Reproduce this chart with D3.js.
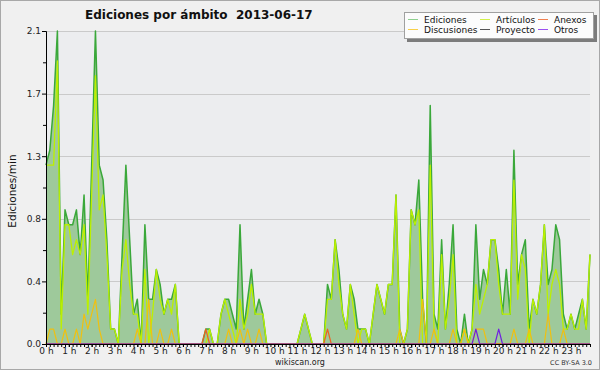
<!DOCTYPE html>
<html>
<head>
<meta charset="utf-8">
<script src="https://cdn.jsdelivr.net/npm/d3@7"></script>
<style>
  html, body { margin: 0; padding: 0; background: #f0f0f0; }
  svg { display: block; font-family: "DejaVu Sans", sans-serif; }
</style>
</head>
<body>
<div id="chart"></div>
<script>
// edits per minute, one value per 10-minute bucket (6 per hour, 0 h .. 23 h)
const ediciones = [
  1.2, 1.3, 1.6, 2.1, 0.2, 0.9,   0.8, 0.8, 0.9, 0.6, 1.0, 0.3,
  1.2, 2.1, 1.2, 1.1, 0.7, 0.1,   0.1, 0.0, 0.6, 1.2, 0.7, 0.2,
  0.3, 0.0, 0.8, 0.3, 0.3, 0.5,   0.4, 0.2, 0.3, 0.3, 0.4, 0.0,
  0.0, 0.0, 0.0, 0.0, 0.0, 0.0,   0.1, 0.1, 0.0, 0.0, 0.2, 0.3,
  0.3, 0.2, 0.1, 0.8, 0.1, 0.3,   0.5, 0.2, 0.3, 0.2, 0.0, 0.0,
  0.0, 0.0, 0.0, 0.0, 0.0, 0.0,   0.0, 0.1, 0.2, 0.1, 0.0, 0.0,
  0.0, 0.0, 0.4, 0.3, 0.7, 0.5,   0.2, 0.1, 0.4, 0.3, 0.1, 0.1,
  0.1, 0.0, 0.2, 0.4, 0.3, 0.2,   0.4, 0.4, 1.0, 0.1, 0.0, 0.1,
  0.9, 0.8, 1.1, 0.3, 0.0, 1.6,   0.2, 0.1, 0.7, 0.1, 0.4, 0.8,
  0.1, 0.0, 0.2, 0.0, 0.1, 0.8,   0.3, 0.5, 0.4, 0.7, 0.7, 0.5,
  0.2, 0.5, 0.2, 1.3, 0.4, 0.6,   0.7, 0.1, 0.3, 0.2, 0.4, 0.8,
  0.4, 0.5, 0.8, 0.7, 0.2, 0.1,   0.2, 0.1, 0.2, 0.3, 0.1, 0.6
];
const articulos = [
  1.2, 1.2, 1.2, 1.9, 0.1, 0.8,   0.8, 0.6, 0.7, 0.6, 0.8, 0.2,
  1.0, 1.8, 0.9, 1.0, 0.6, 0.1,   0.1, 0.0, 0.5, 0.7, 0.4, 0.2,
  0.2, 0.0, 0.5, 0.0, 0.2, 0.5,   0.3, 0.2, 0.3, 0.2, 0.4, 0.0,
  0.0, 0.0, 0.0, 0.0, 0.0, 0.0,   0.0, 0.1, 0.0, 0.0, 0.2, 0.3,
  0.2, 0.1, 0.0, 0.3, 0.1, 0.2,   0.4, 0.2, 0.2, 0.2, 0.0, 0.0,
  0.0, 0.0, 0.0, 0.0, 0.0, 0.0,   0.0, 0.1, 0.2, 0.1, 0.0, 0.0,
  0.0, 0.0, 0.3, 0.3, 0.7, 0.4,   0.2, 0.1, 0.4, 0.2, 0.0, 0.1,
  0.1, 0.0, 0.2, 0.4, 0.3, 0.2,   0.4, 0.4, 1.0, 0.0, 0.0, 0.1,
  0.9, 0.8, 0.9, 0.0, 0.0, 1.2,   0.1, 0.0, 0.6, 0.1, 0.3, 0.6,
  0.0, 0.0, 0.1, 0.0, 0.1, 0.4,   0.2, 0.3, 0.4, 0.7, 0.7, 0.4,
  0.2, 0.2, 0.2, 1.1, 0.3, 0.6,   0.5, 0.0, 0.3, 0.2, 0.4, 0.8,
  0.2, 0.4, 0.5, 0.4, 0.1, 0.1,   0.2, 0.1, 0.1, 0.3, 0.1, 0.6
];
const discusiones = [
  0.0, 0.1, 0.1, 0.0, 0.0, 0.1,   0.0, 0.0, 0.1, 0.0, 0.2, 0.1,
  0.2, 0.3, 0.1, 0.0, 0.0, 0.0,   0.0, 0.0, 0.0, 0.0, 0.0, 0.0,
  0.1, 0.0, 0.0, 0.3, 0.0, 0.0,   0.1, 0.0, 0.0, 0.1, 0.0, 0.0,
  0.0, 0.0, 0.0, 0.0, 0.0, 0.0,   0.0, 0.0, 0.0, 0.0, 0.0, 0.0,
  0.1, 0.0, 0.0, 0.1, 0.0, 0.1,   0.0, 0.0, 0.1, 0.0, 0.0, 0.0,
  0.0, 0.0, 0.0, 0.0, 0.0, 0.0,   0.0, 0.0, 0.0, 0.0, 0.0, 0.0,
  0.0, 0.0, 0.0, 0.0, 0.0, 0.0,   0.0, 0.0, 0.0, 0.0, 0.1, 0.0,
  0.0, 0.0, 0.0, 0.0, 0.0, 0.0,   0.0, 0.0, 0.0, 0.1, 0.0, 0.0,
  0.0, 0.0, 0.0, 0.3, 0.0, 0.0,   0.1, 0.0, 0.0, 0.0, 0.0, 0.1,
  0.0, 0.0, 0.1, 0.0, 0.0, 0.1,   0.1, 0.1, 0.0, 0.0, 0.0, 0.0,
  0.0, 0.0, 0.0, 0.1, 0.0, 0.0,   0.0, 0.1, 0.0, 0.0, 0.0, 0.0,
  0.2, 0.0, 0.0, 0.0, 0.1, 0.0,   0.0, 0.0, 0.0, 0.0, 0.0, 0.0
];
const anexos = [
  0, 0, 0, 0, 0, 0,   0, 0, 0, 0, 0, 0,
  0, 0, 0, 0, 0, 0,   0, 0, 0, 0, 0, 0,
  0, 0, 0, 0, 0, 0,   0, 0, 0, 0, 0, 0,
  0, 0, 0, 0, 0, 0,   0.1, 0, 0, 0, 0, 0,
  0, 0, 0, 0, 0, 0,   0, 0, 0, 0, 0, 0,
  0, 0, 0, 0, 0, 0,   0, 0, 0, 0, 0, 0,
  0, 0, 0.1, 0, 0, 0, 0, 0, 0, 0, 0, 0,
  0, 0, 0, 0, 0, 0,   0, 0, 0, 0, 0, 0,
  0, 0, 0, 0, 0, 0,   0, 0, 0, 0, 0, 0,
  0, 0, 0, 0, 0, 0,   0, 0, 0, 0, 0, 0,
  0, 0, 0, 0, 0, 0,   0, 0, 0, 0, 0, 0,
  0, 0, 0, 0, 0, 0,   0, 0, 0, 0, 0, 0
];
const otros = [
  0, 0, 0, 0, 0, 0,   0, 0, 0, 0, 0, 0,
  0, 0, 0, 0, 0, 0,   0, 0, 0, 0, 0, 0,
  0, 0, 0, 0, 0, 0,   0, 0, 0, 0, 0, 0,
  0, 0, 0, 0, 0, 0,   0, 0, 0, 0, 0, 0,
  0, 0, 0, 0, 0, 0,   0, 0, 0, 0, 0, 0,
  0, 0, 0, 0, 0, 0,   0, 0, 0, 0, 0, 0,
  0, 0, 0, 0, 0, 0,   0, 0, 0, 0, 0, 0,
  0, 0, 0, 0, 0, 0,   0, 0, 0, 0, 0, 0,
  0, 0, 0, 0, 0, 0,   0, 0, 0, 0, 0, 0,
  0, 0, 0, 0, 0, 0.1, 0, 0, 0, 0, 0, 0.1,
  0, 0, 0, 0, 0, 0,   0, 0, 0, 0, 0, 0,
  0, 0, 0, 0, 0, 0,   0, 0, 0, 0, 0, 0
];
const proyecto = [
  0, 0, 0, 0, 0, 0,   0, 0, 0, 0, 0, 0,
  0, 0, 0, 0, 0, 0,   0, 0, 0, 0, 0, 0,
  0, 0, 0, 0, 0, 0,   0, 0, 0, 0, 0, 0,
  0, 0, 0, 0, 0, 0,   0, 0, 0, 0, 0, 0,
  0, 0, 0, 0, 0, 0,   0, 0, 0, 0, 0, 0,
  0, 0, 0, 0, 0, 0,   0, 0, 0, 0, 0, 0,
  0, 0, 0, 0, 0, 0,   0, 0, 0, 0, 0, 0,
  0, 0, 0, 0, 0, 0,   0, 0, 0, 0, 0, 0,
  0, 0, 0, 0, 0, 0,   0, 0, 0, 0, 0, 0,
  0, 0, 0, 0, 0, 0,   0, 0, 0, 0, 0, 0,
  0, 0, 0, 0, 0, 0,   0, 0, 0, 0, 0, 0,
  0, 0, 0, 0, 0, 0,   0, 0, 0, 0, 0, 0
];

const hours = [0, 1, 2, 3, 4, 5, 6, 7, 8, 9, 10, 11, 12, 13, 14, 15, 16, 17, 18, 19, 20, 21, 22, 23];
const yTicks = [0, 0.42, 0.84, 1.26, 1.68, 2.1];
const legendItems = [
  { name: "Ediciones",   color: "#8fd08f" },
  { name: "Artículos",   color: "#d2f04a" },
  { name: "Anexos",      color: "#f08050" },
  { name: "Discusiones", color: "#f8d048" },
  { name: "Proyecto",    color: "#555555" },
  { name: "Otros",       color: "#9a50f0" }
];

const width = 600, height = 370;
const plotLeft = 46, plotRight = 590, plotTop = 31, plotBottom = 344;

const svg = d3.select("#chart").append("svg")
  .attr("width", width)
  .attr("height", height)
  .attr("viewBox", `0 0 ${width} ${height}`);

svg.append("rect")
  .attr("x", 0.5).attr("y", 0.5)
  .attr("width", width - 1).attr("height", height - 1)
  .attr("fill", "#f0f0f0")
  .attr("stroke", "#a8a8a8");

const x = d3.scaleLinear().domain([0, ediciones.length - 1]).range([plotLeft, plotRight]);
const y = d3.scaleLinear().domain([0, 2.1]).range([plotBottom, plotTop]);

// plot background + grid
svg.append("rect")
  .attr("x", plotLeft).attr("y", plotTop)
  .attr("width", plotRight - plotLeft).attr("height", plotBottom - plotTop)
  .attr("fill", "#ecedef");

svg.append("g")
  .selectAll("line")
  .data(yTicks.slice(1))
  .join("line")
  .attr("x1", plotLeft).attr("x2", plotRight)
  .attr("y1", d => Math.round(y(d)) + 0.5)
  .attr("y2", d => Math.round(y(d)) + 0.5)
  .attr("stroke", "#cacaca");

// total edits area
const area = d3.area()
  .x((_d, i) => x(i))
  .y0(y(0))
  .y1(d => y(d));

svg.append("path")
  .datum(ediciones)
  .attr("fill", "#9ec99b")
  .attr("d", area);

const line = d3.line()
  .x((_d, i) => x(i))
  .y(d => y(d));

const series = [
  { values: ediciones,   color: "#3aa83a", w: 1.5 },
  { values: articulos,   color: "#bcf000", w: 1.3 },
  { values: proyecto,    color: "#555555", w: 1.2 },
  { values: discusiones, color: "#f0c010", w: 1.2 },
  { values: anexos,      color: "#f06020", w: 1.2 },
  { values: otros,       color: "#7020e0", w: 1.2 }
];

series.forEach(s => {
  svg.append("path")
    .datum(s.values)
    .attr("fill", "none")
    .attr("stroke", s.color)
    .attr("stroke-width", s.w)
    .attr("stroke-linejoin", "round")
    .attr("d", line);
});

// axes
const yAxis = d3.axisLeft(y)
  .tickValues(yTicks)
  .tickFormat(d3.format(".1f"))
  .tickSize(4)
  .tickSizeOuter(0)
  .tickPadding(1);

const yMinor = d3.axisLeft(y)
  .tickValues(d3.pairs(yTicks).map(p => (p[0] + p[1]) / 2))
  .tickFormat("")
  .tickSize(3)
  .tickSizeOuter(0);

const xMinor = d3.axisBottom(x)
  .tickValues(ediciones.map((_d, i) => i))
  .tickFormat("")
  .tickSize(3)
  .tickSizeOuter(0);

const xAxis = d3.axisBottom(x)
  .tickValues(hours.map(h => h * 6))
  .tickFormat(d => `${d / 6} h`)
  .tickSize(3)
  .tickSizeOuter(0)
  .tickPadding(1);

svg.append("g").attr("transform", `translate(${plotLeft},0)`).call(yMinor);
svg.append("g").attr("transform", `translate(${plotLeft},0)`).call(yAxis);
svg.append("g").attr("transform", `translate(0,${plotBottom})`).call(xMinor);
svg.append("g").attr("transform", `translate(0,${plotBottom})`).call(xAxis);

svg.selectAll(".tick text")
  .attr("font-family", "DejaVu Sans")
  .attr("font-size", 9)
  .attr("fill", "#222");
svg.selectAll(".domain, .tick line").attr("stroke", "#000");

// texts
svg.append("text")
  .attr("x", 85).attr("y", 19)
  .attr("font-size", 12)
  .attr("font-weight", "bold")
  .attr("fill", "#111")
  .attr("xml:space", "preserve")
  .text("Ediciones por ámbito  2013-06-17");

svg.append("text")
  .attr("transform", "translate(16,191) rotate(-90)")
  .attr("text-anchor", "middle")
  .attr("font-size", 10.5)
  .attr("fill", "#111")
  .text("Ediciones/min");

svg.append("text")
  .attr("x", 300).attr("y", 365)
  .attr("text-anchor", "middle")
  .attr("font-size", 8)
  .attr("fill", "#222")
  .text("wikiscan.org");

svg.append("text")
  .attr("x", 592).attr("y", 365)
  .attr("text-anchor", "end")
  .attr("font-size", 6.5)
  .attr("fill", "#333")
  .text("CC BY-SA 3.0");

// legend
const lg = svg.append("g");
lg.append("rect")
  .attr("x", 407).attr("y", 15)
  .attr("width", 190).attr("height", 27)
  .attr("fill", "#7c7c7c");
lg.append("rect")
  .attr("x", 404.5).attr("y", 12.5)
  .attr("width", 189).attr("height", 26)
  .attr("fill", "#fcfcfc")
  .attr("stroke", "#a0a0a0");

const colX = [408, 480, 538];
const rowY = [19.5, 29.5];
legendItems.forEach((d, i) => {
  const cx = colX[i % 3], cy = rowY[Math.floor(i / 3)];
  lg.append("line")
    .attr("x1", cx).attr("x2", cx + 10)
    .attr("y1", cy).attr("y2", cy)
    .attr("stroke", d.color)
    .attr("stroke-width", 1);
  lg.append("text")
    .attr("x", cx + 16).attr("y", cy + 3.5)
    .attr("font-size", 9)
    .attr("fill", "#111")
    .text(d.name);
});
</script>
</body>
</html>
